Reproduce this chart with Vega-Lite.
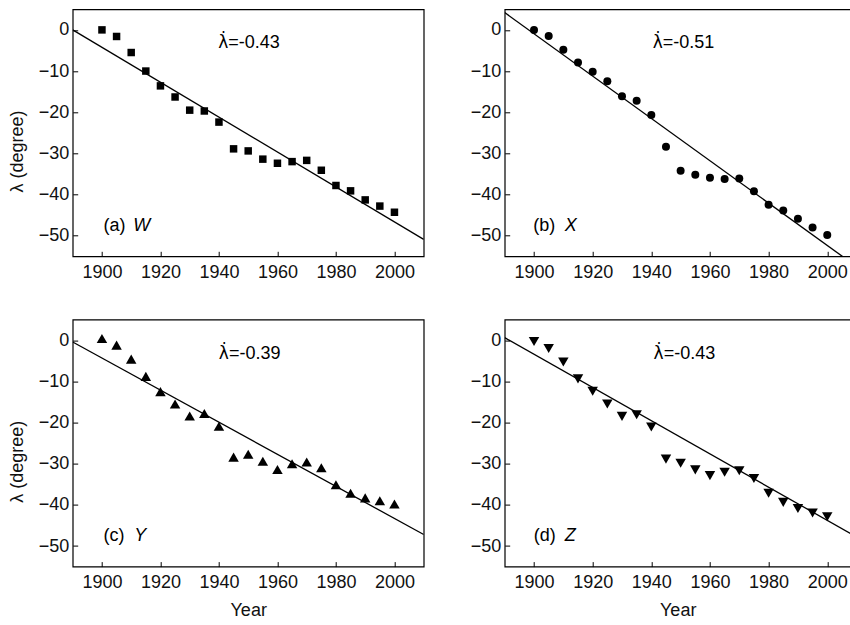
{
  "$schema": "https://vega.github.io/schema/vega-lite/v6.json",
  "autosize": {"type": "none"},
  "padding": {"left": 72.7, "top": 9.3, "right": 777.3, "bottom": 615.7},
  "background": "white",
  "bounds": "flush",
  "columns": 2,
  "spacing": {"row": 63.3, "column": 81},
  "datasets": {
    "pts": [
      {"panel": "a", "year": 1900, "lam": 0.0}, {"panel": "a", "year": 1905, "lam": -1.6}, {"panel": "a", "year": 1910, "lam": -5.5}, {"panel": "a", "year": 1915, "lam": -10.0}, {"panel": "a", "year": 1920, "lam": -13.6}, {"panel": "a", "year": 1925, "lam": -16.3}, {"panel": "a", "year": 1930, "lam": -19.5}, {"panel": "a", "year": 1935, "lam": -19.7}, {"panel": "a", "year": 1940, "lam": -22.4}, {"panel": "a", "year": 1945, "lam": -28.9}, {"panel": "a", "year": 1950, "lam": -29.4}, {"panel": "a", "year": 1955, "lam": -31.4}, {"panel": "a", "year": 1960, "lam": -32.4}, {"panel": "a", "year": 1965, "lam": -32.0}, {"panel": "a", "year": 1970, "lam": -31.7}, {"panel": "a", "year": 1975, "lam": -34.1}, {"panel": "a", "year": 1980, "lam": -37.8}, {"panel": "a", "year": 1985, "lam": -39.1}, {"panel": "a", "year": 1990, "lam": -41.3}, {"panel": "a", "year": 1995, "lam": -42.8}, {"panel": "a", "year": 2000, "lam": -44.3},
      {"panel": "b", "year": 1900, "lam": 0.0}, {"panel": "b", "year": 1905, "lam": -1.5}, {"panel": "b", "year": 1910, "lam": -4.8}, {"panel": "b", "year": 1915, "lam": -7.9}, {"panel": "b", "year": 1920, "lam": -10.2}, {"panel": "b", "year": 1925, "lam": -12.5}, {"panel": "b", "year": 1930, "lam": -16.1}, {"panel": "b", "year": 1935, "lam": -17.2}, {"panel": "b", "year": 1940, "lam": -20.7}, {"panel": "b", "year": 1945, "lam": -28.4}, {"panel": "b", "year": 1950, "lam": -34.2}, {"panel": "b", "year": 1955, "lam": -35.2}, {"panel": "b", "year": 1960, "lam": -35.9}, {"panel": "b", "year": 1965, "lam": -36.2}, {"panel": "b", "year": 1970, "lam": -36.1}, {"panel": "b", "year": 1975, "lam": -39.2}, {"panel": "b", "year": 1980, "lam": -42.5}, {"panel": "b", "year": 1985, "lam": -43.9}, {"panel": "b", "year": 1990, "lam": -45.9}, {"panel": "b", "year": 1995, "lam": -48.0}, {"panel": "b", "year": 2000, "lam": -49.8},
      {"panel": "c", "year": 1900, "lam": 0.4}, {"panel": "c", "year": 1905, "lam": -1.2}, {"panel": "c", "year": 1910, "lam": -4.6}, {"panel": "c", "year": 1915, "lam": -8.8}, {"panel": "c", "year": 1920, "lam": -12.5}, {"panel": "c", "year": 1925, "lam": -15.5}, {"panel": "c", "year": 1930, "lam": -18.4}, {"panel": "c", "year": 1935, "lam": -17.8}, {"panel": "c", "year": 1940, "lam": -20.9}, {"panel": "c", "year": 1945, "lam": -28.4}, {"panel": "c", "year": 1950, "lam": -27.7}, {"panel": "c", "year": 1955, "lam": -29.4}, {"panel": "c", "year": 1960, "lam": -31.4}, {"panel": "c", "year": 1965, "lam": -30.0}, {"panel": "c", "year": 1970, "lam": -29.6}, {"panel": "c", "year": 1975, "lam": -31.0}, {"panel": "c", "year": 1980, "lam": -35.1}, {"panel": "c", "year": 1985, "lam": -37.2}, {"panel": "c", "year": 1990, "lam": -38.3}, {"panel": "c", "year": 1995, "lam": -39.0}, {"panel": "c", "year": 2000, "lam": -39.8},
      {"panel": "d", "year": 1900, "lam": -0.3}, {"panel": "d", "year": 1905, "lam": -2.0}, {"panel": "d", "year": 1910, "lam": -5.3}, {"panel": "d", "year": 1915, "lam": -9.4}, {"panel": "d", "year": 1920, "lam": -12.4}, {"panel": "d", "year": 1925, "lam": -15.5}, {"panel": "d", "year": 1930, "lam": -18.5}, {"panel": "d", "year": 1935, "lam": -18.1}, {"panel": "d", "year": 1940, "lam": -21.1}, {"panel": "d", "year": 1945, "lam": -28.9}, {"panel": "d", "year": 1950, "lam": -29.9}, {"panel": "d", "year": 1955, "lam": -31.5}, {"panel": "d", "year": 1960, "lam": -32.9}, {"panel": "d", "year": 1965, "lam": -32.1}, {"panel": "d", "year": 1970, "lam": -31.7}, {"panel": "d", "year": 1975, "lam": -33.6}, {"panel": "d", "year": 1980, "lam": -37.2}, {"panel": "d", "year": 1985, "lam": -39.4}, {"panel": "d", "year": 1990, "lam": -40.9}, {"panel": "d", "year": 1995, "lam": -42.0}, {"panel": "d", "year": 2000, "lam": -42.9}
    ],
    "fit": [
      {"panel": "a", "year": 1890, "lam": 0.0}, {"panel": "a", "year": 2010, "lam": -50.9},
      {"panel": "b", "year": 1890, "lam": 4.2}, {"panel": "b", "year": 2010, "lam": -57.5},
      {"panel": "c", "year": 1890, "lam": -0.45}, {"panel": "c", "year": 2010, "lam": -47.2},
      {"panel": "d", "year": 1890, "lam": 0.62}, {"panel": "d", "year": 2010, "lam": -47.8}
    ],
    "notes": [
      {"panel": "a", "kind": "sym", "year": 1943.2, "lam": -4.5, "text": "λ̇"},
      {"panel": "a", "kind": "rate", "year": 1943.2, "lam": -4.5, "text": "=-0.43"},
      {"panel": "a", "kind": "tag", "year": 1900.5, "lam": -48.9, "text": "(a)"},
      {"panel": "a", "kind": "name", "year": 1910.7, "lam": -48.9, "text": "W"},
      {"panel": "b", "kind": "sym", "year": 1943.9, "lam": -4.5, "text": "λ̇"},
      {"panel": "b", "kind": "rate", "year": 1943.9, "lam": -4.5, "text": "=-0.51"},
      {"panel": "b", "kind": "tag", "year": 1899.7, "lam": -48.9, "text": "(b)"},
      {"panel": "b", "kind": "name", "year": 1910.5, "lam": -48.9, "text": "X"},
      {"panel": "c", "kind": "sym", "year": 1943.4, "lam": -4.5, "text": "λ̇"},
      {"panel": "c", "kind": "rate", "year": 1943.4, "lam": -4.5, "text": "=-0.39"},
      {"panel": "c", "kind": "tag", "year": 1900.5, "lam": -48.9, "text": "(c)"},
      {"panel": "c", "kind": "name", "year": 1911.0, "lam": -48.9, "text": "Y"},
      {"panel": "d", "kind": "sym", "year": 1944.2, "lam": -4.5, "text": "λ̇"},
      {"panel": "d", "kind": "rate", "year": 1944.2, "lam": -4.5, "text": "=-0.43"},
      {"panel": "d", "kind": "tag", "year": 1899.9, "lam": -48.9, "text": "(d)"},
      {"panel": "d", "kind": "name", "year": 1910.5, "lam": -48.9, "text": "Z"}
    ]
  },
  "concat": [
    {
      "width": 351, "height": 247,
      "layer": [
        {"data": {"name": "pts"}, "transform": [{"filter": "datum.panel === 'a'"}],
         "mark": {"type": "point", "shape": "square", "filled": true, "color": "black", "opacity": 1, "size": 56},
         "encoding": {
           "x": {"field": "year", "type": "quantitative", "scale": {"domain": [1890, 2010], "nice": false, "zero": false},
                 "axis": {"title": null, "format": "d", "values": [1900, 1910, 1920, 1930, 1940, 1950, 1960, 1970, 1980, 1990, 2000], "labelExpr": "datum.value % 20 === 0 ? datum.label : ''",
                          "tickSize": {"condition": {"test": "datum.value % 20 === 0", "value": -5}, "value": -3}}},
           "y": {"field": "lam", "type": "quantitative", "scale": {"domain": [-55, 5], "nice": false, "zero": false},
                 "axis": {"title": "λ (degree)", "titleX": -54.7, "titleY": 141.7, "values": [-50, -45, -40, -35, -30, -25, -20, -15, -10, -5, 0], "labelExpr": "datum.value % 10 === 0 ? datum.label : ''",
                          "tickSize": {"condition": {"test": "datum.value % 10 === 0", "value": -5}, "value": -3}}}
         }},
        {"data": {"name": "fit"}, "transform": [{"filter": "datum.panel === 'a'"}],
         "mark": {"type": "line", "color": "black", "strokeWidth": 1.3, "clip": true},
         "encoding": {"x": {"field": "year", "type": "quantitative"}, "y": {"field": "lam", "type": "quantitative"}}},
        {"data": {"name": "notes"}, "transform": [{"filter": "datum.panel === 'a' && datum.kind === 'sym'"}],
         "mark": {"type": "text", "align": "right", "baseline": "alphabetic", "font": "DejaVu Sans", "fontSize": 17, "color": "black"},
         "encoding": {"x": {"field": "year", "type": "quantitative"}, "y": {"field": "lam", "type": "quantitative"}, "text": {"field": "text"}}},
        {"data": {"name": "notes"}, "transform": [{"filter": "datum.panel === 'a' && datum.kind === 'rate'"}],
         "mark": {"type": "text", "align": "left", "baseline": "alphabetic", "font": "Liberation Sans", "fontSize": 18, "color": "black"},
         "encoding": {"x": {"field": "year", "type": "quantitative"}, "y": {"field": "lam", "type": "quantitative"}, "text": {"field": "text"}}},
        {"data": {"name": "notes"}, "transform": [{"filter": "datum.panel === 'a' && datum.kind === 'tag'"}],
         "mark": {"type": "text", "align": "left", "baseline": "alphabetic", "font": "Liberation Sans", "fontSize": 18, "color": "black"},
         "encoding": {"x": {"field": "year", "type": "quantitative"}, "y": {"field": "lam", "type": "quantitative"}, "text": {"field": "text"}}},
        {"data": {"name": "notes"}, "transform": [{"filter": "datum.panel === 'a' && datum.kind === 'name'"}],
         "mark": {"type": "text", "align": "left", "baseline": "alphabetic", "font": "Liberation Sans", "fontSize": 18, "fontStyle": "italic", "color": "black"},
         "encoding": {"x": {"field": "year", "type": "quantitative"}, "y": {"field": "lam", "type": "quantitative"}, "text": {"field": "text"}}}
      ]
    },
    {
      "width": 346, "height": 247,
      "layer": [
        {"data": {"name": "pts"}, "transform": [{"filter": "datum.panel === 'b'"}],
         "mark": {"type": "point", "shape": "circle", "filled": true, "color": "black", "opacity": 1, "size": 64},
         "encoding": {
           "x": {"field": "year", "type": "quantitative", "scale": {"domain": [1890, 2008], "nice": false, "zero": false},
                 "axis": {"title": null, "format": "d", "values": [1900, 1910, 1920, 1930, 1940, 1950, 1960, 1970, 1980, 1990, 2000], "labelExpr": "datum.value % 20 === 0 ? datum.label : ''",
                          "tickSize": {"condition": {"test": "datum.value % 20 === 0", "value": -5}, "value": -3}}},
           "y": {"field": "lam", "type": "quantitative", "scale": {"domain": [-55, 5], "nice": false, "zero": false},
                 "axis": {"title": null, "values": [-50, -45, -40, -35, -30, -25, -20, -15, -10, -5, 0], "labelExpr": "datum.value % 10 === 0 ? datum.label : ''",
                          "tickSize": {"condition": {"test": "datum.value % 10 === 0", "value": -5}, "value": -3}}}
         }},
        {"data": {"name": "fit"}, "transform": [{"filter": "datum.panel === 'b'"}],
         "mark": {"type": "line", "color": "black", "strokeWidth": 1.3, "clip": true},
         "encoding": {"x": {"field": "year", "type": "quantitative"}, "y": {"field": "lam", "type": "quantitative"}}},
        {"data": {"name": "notes"}, "transform": [{"filter": "datum.panel === 'b' && datum.kind === 'sym'"}],
         "mark": {"type": "text", "align": "right", "baseline": "alphabetic", "font": "DejaVu Sans", "fontSize": 17, "color": "black"},
         "encoding": {"x": {"field": "year", "type": "quantitative"}, "y": {"field": "lam", "type": "quantitative"}, "text": {"field": "text"}}},
        {"data": {"name": "notes"}, "transform": [{"filter": "datum.panel === 'b' && datum.kind === 'rate'"}],
         "mark": {"type": "text", "align": "left", "baseline": "alphabetic", "font": "Liberation Sans", "fontSize": 18, "color": "black"},
         "encoding": {"x": {"field": "year", "type": "quantitative"}, "y": {"field": "lam", "type": "quantitative"}, "text": {"field": "text"}}},
        {"data": {"name": "notes"}, "transform": [{"filter": "datum.panel === 'b' && datum.kind === 'tag'"}],
         "mark": {"type": "text", "align": "left", "baseline": "alphabetic", "font": "Liberation Sans", "fontSize": 18, "color": "black"},
         "encoding": {"x": {"field": "year", "type": "quantitative"}, "y": {"field": "lam", "type": "quantitative"}, "text": {"field": "text"}}},
        {"data": {"name": "notes"}, "transform": [{"filter": "datum.panel === 'b' && datum.kind === 'name'"}],
         "mark": {"type": "text", "align": "left", "baseline": "alphabetic", "font": "Liberation Sans", "fontSize": 18, "fontStyle": "italic", "color": "black"},
         "encoding": {"x": {"field": "year", "type": "quantitative"}, "y": {"field": "lam", "type": "quantitative"}, "text": {"field": "text"}}}
      ]
    },
    {
      "width": 351, "height": 247,
      "layer": [
        {"data": {"name": "pts"}, "transform": [{"filter": "datum.panel === 'c'"}],
         "mark": {"type": "point", "shape": "triangle-up", "filled": true, "color": "black", "opacity": 1, "size": 110},
         "encoding": {
           "x": {"field": "year", "type": "quantitative", "scale": {"domain": [1890, 2010], "nice": false, "zero": false},
                 "axis": {"title": "Year", "format": "d", "values": [1900, 1910, 1920, 1930, 1940, 1950, 1960, 1970, 1980, 1990, 2000], "labelExpr": "datum.value % 20 === 0 ? datum.label : ''",
                          "tickSize": {"condition": {"test": "datum.value % 20 === 0", "value": -5}, "value": -3}}},
           "y": {"field": "lam", "type": "quantitative", "scale": {"domain": [-55, 5], "nice": false, "zero": false},
                 "axis": {"title": "λ (degree)", "titleX": -54.7, "titleY": 141.7, "values": [-50, -45, -40, -35, -30, -25, -20, -15, -10, -5, 0], "labelExpr": "datum.value % 10 === 0 ? datum.label : ''",
                          "tickSize": {"condition": {"test": "datum.value % 10 === 0", "value": -5}, "value": -3}}}
         }},
        {"data": {"name": "fit"}, "transform": [{"filter": "datum.panel === 'c'"}],
         "mark": {"type": "line", "color": "black", "strokeWidth": 1.3, "clip": true},
         "encoding": {"x": {"field": "year", "type": "quantitative"}, "y": {"field": "lam", "type": "quantitative"}}},
        {"data": {"name": "notes"}, "transform": [{"filter": "datum.panel === 'c' && datum.kind === 'sym'"}],
         "mark": {"type": "text", "align": "right", "baseline": "alphabetic", "font": "DejaVu Sans", "fontSize": 17, "color": "black"},
         "encoding": {"x": {"field": "year", "type": "quantitative"}, "y": {"field": "lam", "type": "quantitative"}, "text": {"field": "text"}}},
        {"data": {"name": "notes"}, "transform": [{"filter": "datum.panel === 'c' && datum.kind === 'rate'"}],
         "mark": {"type": "text", "align": "left", "baseline": "alphabetic", "font": "Liberation Sans", "fontSize": 18, "color": "black"},
         "encoding": {"x": {"field": "year", "type": "quantitative"}, "y": {"field": "lam", "type": "quantitative"}, "text": {"field": "text"}}},
        {"data": {"name": "notes"}, "transform": [{"filter": "datum.panel === 'c' && datum.kind === 'tag'"}],
         "mark": {"type": "text", "align": "left", "baseline": "alphabetic", "font": "Liberation Sans", "fontSize": 18, "color": "black"},
         "encoding": {"x": {"field": "year", "type": "quantitative"}, "y": {"field": "lam", "type": "quantitative"}, "text": {"field": "text"}}},
        {"data": {"name": "notes"}, "transform": [{"filter": "datum.panel === 'c' && datum.kind === 'name'"}],
         "mark": {"type": "text", "align": "left", "baseline": "alphabetic", "font": "Liberation Sans", "fontSize": 18, "fontStyle": "italic", "color": "black"},
         "encoding": {"x": {"field": "year", "type": "quantitative"}, "y": {"field": "lam", "type": "quantitative"}, "text": {"field": "text"}}}
      ]
    },
    {
      "width": 346, "height": 247,
      "layer": [
        {"data": {"name": "pts"}, "transform": [{"filter": "datum.panel === 'd'"}],
         "mark": {"type": "point", "shape": "triangle-down", "filled": true, "color": "black", "opacity": 1, "size": 110},
         "encoding": {
           "x": {"field": "year", "type": "quantitative", "scale": {"domain": [1890, 2008], "nice": false, "zero": false},
                 "axis": {"title": "Year", "format": "d", "values": [1900, 1910, 1920, 1930, 1940, 1950, 1960, 1970, 1980, 1990, 2000], "labelExpr": "datum.value % 20 === 0 ? datum.label : ''",
                          "tickSize": {"condition": {"test": "datum.value % 20 === 0", "value": -5}, "value": -3}}},
           "y": {"field": "lam", "type": "quantitative", "scale": {"domain": [-55, 5], "nice": false, "zero": false},
                 "axis": {"title": null, "values": [-50, -45, -40, -35, -30, -25, -20, -15, -10, -5, 0], "labelExpr": "datum.value % 10 === 0 ? datum.label : ''",
                          "tickSize": {"condition": {"test": "datum.value % 10 === 0", "value": -5}, "value": -3}}}
         }},
        {"data": {"name": "fit"}, "transform": [{"filter": "datum.panel === 'd'"}],
         "mark": {"type": "line", "color": "black", "strokeWidth": 1.3, "clip": true},
         "encoding": {"x": {"field": "year", "type": "quantitative"}, "y": {"field": "lam", "type": "quantitative"}}},
        {"data": {"name": "notes"}, "transform": [{"filter": "datum.panel === 'd' && datum.kind === 'sym'"}],
         "mark": {"type": "text", "align": "right", "baseline": "alphabetic", "font": "DejaVu Sans", "fontSize": 17, "color": "black"},
         "encoding": {"x": {"field": "year", "type": "quantitative"}, "y": {"field": "lam", "type": "quantitative"}, "text": {"field": "text"}}},
        {"data": {"name": "notes"}, "transform": [{"filter": "datum.panel === 'd' && datum.kind === 'rate'"}],
         "mark": {"type": "text", "align": "left", "baseline": "alphabetic", "font": "Liberation Sans", "fontSize": 18, "color": "black"},
         "encoding": {"x": {"field": "year", "type": "quantitative"}, "y": {"field": "lam", "type": "quantitative"}, "text": {"field": "text"}}},
        {"data": {"name": "notes"}, "transform": [{"filter": "datum.panel === 'd' && datum.kind === 'tag'"}],
         "mark": {"type": "text", "align": "left", "baseline": "alphabetic", "font": "Liberation Sans", "fontSize": 18, "color": "black"},
         "encoding": {"x": {"field": "year", "type": "quantitative"}, "y": {"field": "lam", "type": "quantitative"}, "text": {"field": "text"}}},
        {"data": {"name": "notes"}, "transform": [{"filter": "datum.panel === 'd' && datum.kind === 'name'"}],
         "mark": {"type": "text", "align": "left", "baseline": "alphabetic", "font": "Liberation Sans", "fontSize": 18, "fontStyle": "italic", "color": "black"},
         "encoding": {"x": {"field": "year", "type": "quantitative"}, "y": {"field": "lam", "type": "quantitative"}, "text": {"field": "text"}}}
      ]
    }
  ],
  "config": {
    "view": {"stroke": "black", "strokeWidth": 1.2},
    "axis": {
      "grid": false, "domain": false, "tickColor": "black", "tickWidth": 1,
      "labelFont": "Liberation Sans", "labelFontSize": 18, "labelColor": "#111",
      "labelFlush": false, "labelOverlap": false,
      "titleFont": "Liberation Sans", "titleFontSize": 18, "titleFontWeight": "normal", "titleColor": "#111"
    },
    "axisX": {"labelPadding": 12, "titlePadding": 10},
    "axisY": {"labelPadding": 9, "titleBaseline": "middle", "titleAlign": "center", "titleAngle": 270}
  }
}
